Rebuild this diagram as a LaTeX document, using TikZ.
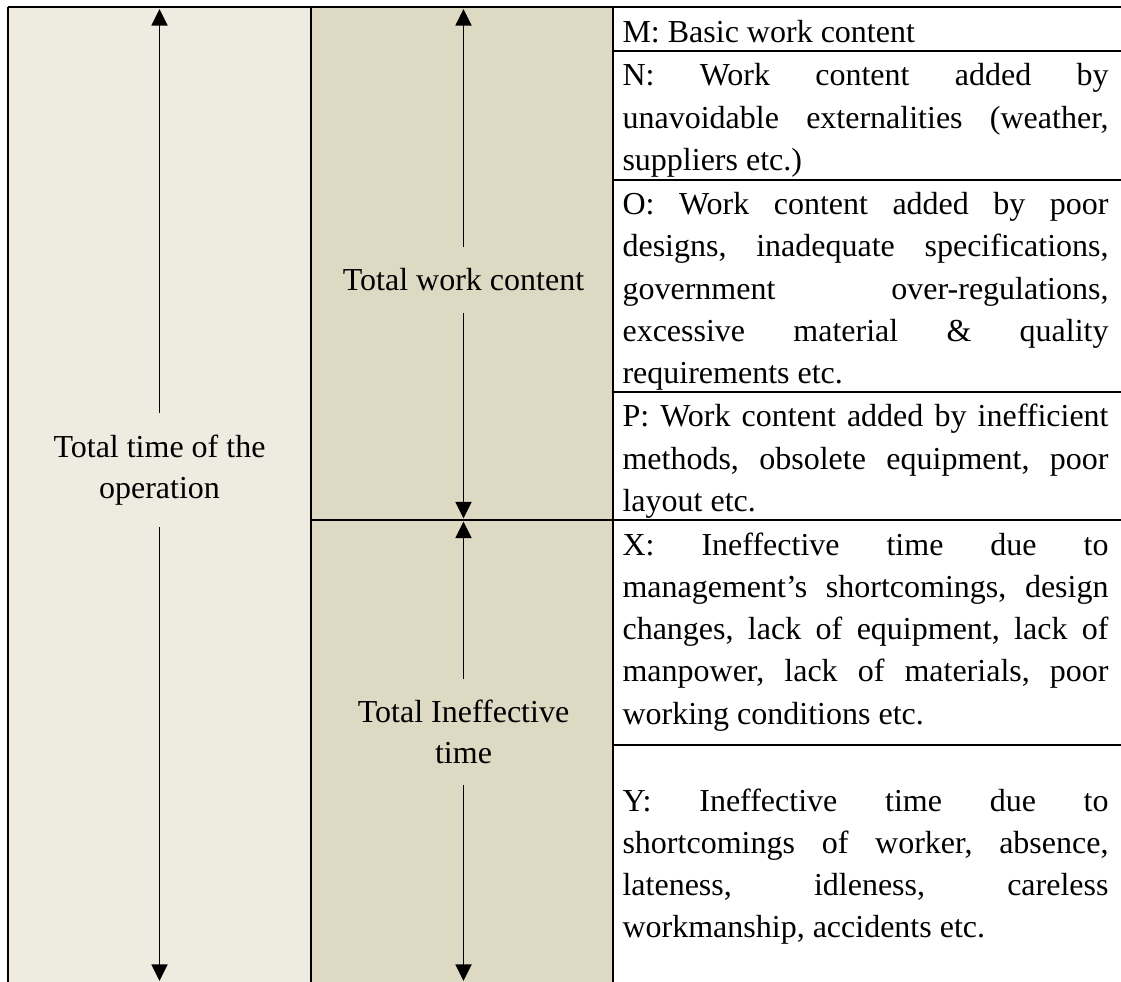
\documentclass[tikz,border=0pt]{standalone}
\usepackage{fontspec}
\setmainfont{Liberation Serif}
\usetikzlibrary{arrows.meta}
\definecolor{bgA}{HTML}{EEECE1}
\definecolor{bgB}{HTML}{DDD9C3}
\begin{document}
\begin{tikzpicture}[
  x=0.375pt, y=-0.375pt,
  rule/.style={line width=0.75pt, black},
  span/.style={line width=0.7pt,
    {Triangle[width=6pt,length=6.2pt]}-{Triangle[width=6pt,length=6.2pt]}},
  label/.style={align=center, inner xsep=3pt, inner ysep=8pt,
    font=\fontsize{12}{15.5}\selectfont},
  celltext/.style={anchor=base west, text width=182.25pt, align=justify,
    inner sep=0pt,
    font={\fontsize{12}{15.86}\selectfont\frenchspacing
          \tolerance=10000 \hyphenpenalty=10000 }}
]
\useasboundingbox (0,0) rectangle (1121,982);

% column backgrounds
\fill[bgA] (8,7.5) rectangle (311,982);
\fill[bgB] (311,7.5) rectangle (613,982);

% end points of the span arrows
\coordinate (totTop) at (159.5,9);
\coordinate (totBot) at (159.5,981);
\coordinate (wcTop)  at (463.5,9);
\coordinate (wcBot)  at (463.5,518.5);
\coordinate (itTop)  at (463.5,521.5);
\coordinate (itBot)  at (463.5,981);

\draw[span] (totTop) -- (totBot);
\draw[span] (wcTop) -- (wcBot);
\draw[span] (itTop) -- (itBot);

% labels sitting on the arrows
\node[label, fill=bgA] (total) at (159.5,470) {Total time of the\\operation};
\node[label, fill=bgB] (work)  at (463.5,280) {Total work content};
\node[label, fill=bgB] (ineff) at (463.5,732) {Total Ineffective\\time};

% table rules
\draw[rule] (8,7.5) -- (1121,7.5);
\draw[rule] (8,7.5) -- (8,982);
\draw[rule] (311,7.5) -- (311,982);
\draw[rule] (613,7.5) -- (613,982);
\draw[rule] (613,51.5) -- (1121,51.5);
\draw[rule] (613,180) -- (1121,180);
\draw[rule] (613,392.5) -- (1121,392.5);
\draw[rule] (311,520) -- (1121,520);
\draw[rule] (613,745) -- (1121,745);

% descriptions
\node[celltext] (M) at (622,42.5) {M: Basic work content};
\node[celltext] (N) at (622,86) {N: Work content added by\linebreak
  unavoidable externalities (weather,\linebreak suppliers etc.)};
\node[celltext] (O) at (622,214.5) {O: Work content added by poor\linebreak
  designs, inadequate specifications,\linebreak
  government over-regulations,\linebreak
  excessive material \& quality\linebreak requirements etc.};
\node[celltext] (P) at (622,427) {P: Work content added by inefficient\linebreak
  methods, obsolete equipment, poor\linebreak layout etc.};
\node[celltext] (X) at (622,555) {X: Ineffective time due to\linebreak
  management’s shortcomings, design\linebreak
  changes, lack of equipment, lack of\linebreak
  manpower, lack of materials, poor\linebreak working conditions etc.};
\node[celltext] (Y) at (622,811) {Y: Ineffective time due to\linebreak
  shortcomings of worker, absence,\linebreak
  lateness, idleness, careless\linebreak workmanship, accidents etc.};
\end{tikzpicture}
\end{document}
